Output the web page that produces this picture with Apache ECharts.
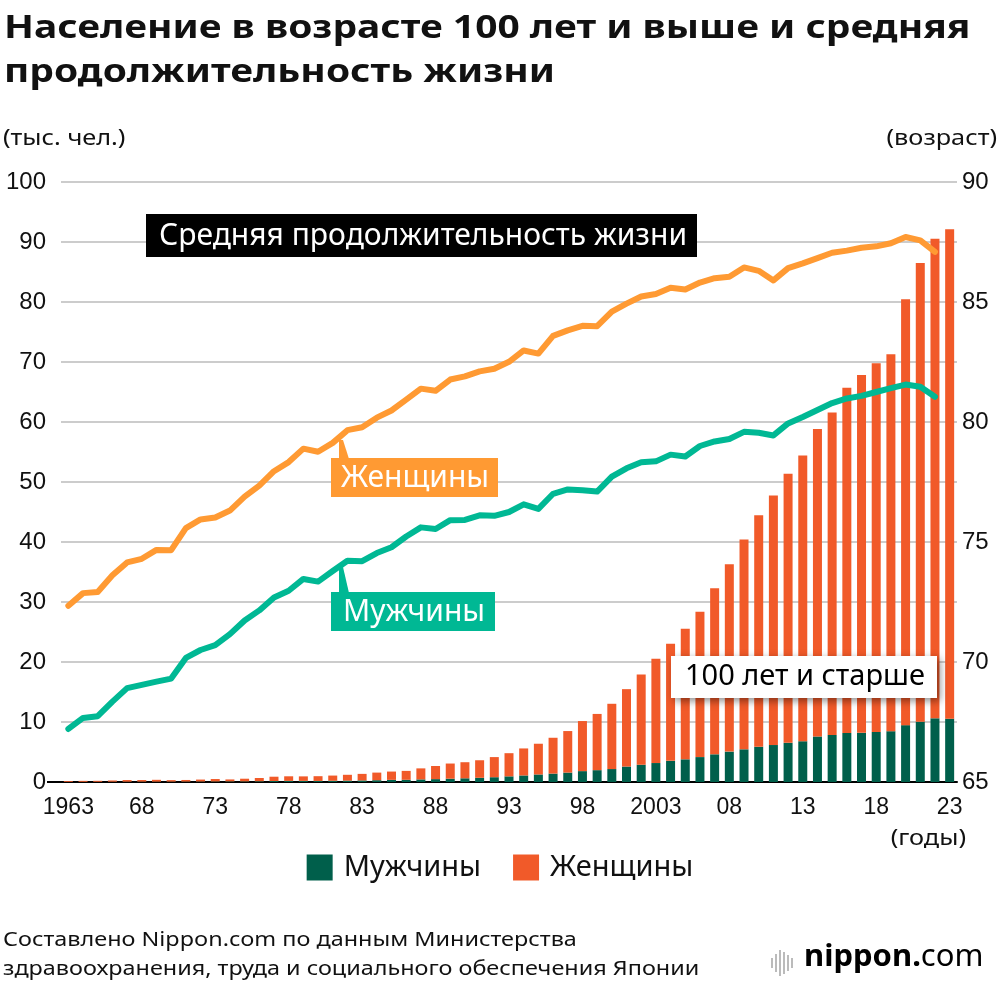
<!DOCTYPE html>
<html><head><meta charset="utf-8">
<script src="https://cdn.jsdelivr.net/npm/echarts@6/dist/echarts.min.js"></script>
<style>html,body{margin:0;padding:0;background:#fff}#c{width:1000px;height:984px}</style>
</head><body><div id="c"></div>
<script>
var years = [];
for (var y = 1963; y <= 2023; y++) years.push(String(y));
// centenarians, thousands
var menCent = [0.020,0.031,0.036,0.048,0.052,0.057,0.058,0.062,0.070,0.078,0.087,0.103,0.102,0.124,0.163,0.185,0.187,0.174,0.206,0.230,0.259,0.301,0.359,0.370,0.434,0.479,0.554,0.617,0.700,0.798,0.941,1.093,1.255,1.400,1.570,1.812,1.973,2.158,2.574,2.875,3.159,3.523,3.779,4.150,4.613,5.063,5.447,5.869,6.162,6.534,6.791,7.586,7.840,8.167,8.197,8.331,8.464,9.475,10.060,10.616,10.550];
var womenCent = [0.133,0.160,0.162,0.204,0.275,0.270,0.307,0.248,0.269,0.327,0.408,0.324,0.446,0.542,0.719,0.765,0.750,0.794,0.866,0.971,1.095,1.266,1.381,1.481,1.837,2.189,2.524,2.681,2.925,3.354,3.861,4.500,5.123,5.973,6.921,8.346,9.373,10.878,12.901,15.059,17.402,19.515,21.775,24.245,27.682,31.213,34.952,38.580,41.594,44.842,47.606,51.234,53.728,57.525,59.627,61.454,62.810,70.975,76.450,79.910,81.589];
// life expectancy, years
var femaleLE = [72.34,72.87,72.92,73.61,74.15,74.30,74.67,74.66,75.58,75.94,76.02,76.31,76.89,77.35,77.95,78.33,78.89,78.76,79.13,79.66,79.78,80.18,80.48,80.93,81.39,81.30,81.77,81.90,82.11,82.22,82.51,82.98,82.85,83.59,83.82,84.01,83.99,84.60,84.93,85.23,85.33,85.59,85.52,85.81,85.99,86.05,86.44,86.30,85.90,86.41,86.61,86.83,87.05,87.14,87.26,87.32,87.45,87.71,87.57,87.09,null];
var maleLE = [67.21,67.67,67.74,68.35,68.91,69.05,69.18,69.31,70.17,70.50,70.70,71.16,71.73,72.15,72.69,72.97,73.46,73.35,73.79,74.22,74.20,74.54,74.78,75.23,75.61,75.54,75.91,75.92,76.11,76.09,76.25,76.57,76.38,77.01,77.19,77.16,77.10,77.72,78.07,78.32,78.36,78.64,78.56,79.00,79.19,79.29,79.59,79.55,79.44,79.94,80.21,80.50,80.79,80.98,81.09,81.25,81.41,81.56,81.47,81.05,null];

var C_MEN = '#005f4b', C_WOMEN = '#f15a29', C_FLINE = '#ff9a33', C_MLINE = '#00b894';
var FONT = '"Noto Sans", sans-serif';
var NUMFONT = '"Liberation Sans", Arial, sans-serif';

var chart = echarts.init(document.getElementById('c'), null, {renderer: 'canvas'});
chart.setOption({
  backgroundColor: '#fff',
  animation: false,
  legend: {
    bottom: 97, left: 'center',
    data: ['Мужчины', 'Женщины'],
    icon: 'rect', itemWidth: 26, itemHeight: 26, itemGap: 32,
    textStyle: {fontFamily: FONT, fontSize: 29, color: '#111', padding: [0, 0, 0, 6]}
  },
  grid: {left: 61, right: 43, top: 182, bottom: 202},
  xAxis: {
    type: 'category', data: years,
    axisLine: {lineStyle: {color: '#000', width: 2}},
    axisTick: {show: false},
    axisLabel: {
      interval: 4, margin: 14, color: '#111', fontFamily: NUMFONT, fontSize: 23,
      formatter: function (v) { return (v === '1963' || v === '2003') ? v : v.slice(2); }
    }
  },
  yAxis: [{
    type: 'value', min: 0, max: 100, interval: 10,
    axisLine: {show: false}, axisTick: {show: false},
    splitLine: {lineStyle: {color: '#cccccc', width: 2}},
    axisLabel: {margin: 15, color: '#111', fontFamily: NUMFONT, fontSize: 24}
  }, {
    type: 'value', min: 65, max: 90, interval: 5,
    axisLine: {show: false}, axisTick: {show: false},
    splitLine: {show: false},
    axisLabel: {margin: 5, color: '#111', fontFamily: NUMFONT, fontSize: 24}
  }],
  series: [
    {name: 'Мужчины', type: 'bar', stack: 'c', data: menCent, barWidth: 9, itemStyle: {color: C_MEN}, z: 2},
    {name: 'Женщины', type: 'bar', stack: 'c', data: womenCent, barWidth: 9, itemStyle: {color: C_WOMEN}, z: 2},
    {name: 'femaleLE', type: 'line', yAxisIndex: 1, data: femaleLE, symbol: 'none', z: 5,
      lineStyle: {color: C_FLINE, width: 6, cap: 'round', join: 'round'}},
    {name: 'maleLE', type: 'line', yAxisIndex: 1, data: maleLE, symbol: 'none', z: 5,
      lineStyle: {color: C_MLINE, width: 6, cap: 'round', join: 'round'}}
  ],
  graphic: [
    {type: 'text', x: 4, y: 7, scaleX: 1.18, style: {text: 'Население в возрасте 100 лет и выше и средняя\nпродолжительность жизни', font: 'bold 33px "Noto Sans"', lineHeight: 44, fill: '#111'}},
    {type: 'line', shape: {x1: 47, y1: 782, x2: 62, y2: 782}, style: {stroke: '#000', lineWidth: 2}, z: 10},
    {type: 'text', x: 3, y: 128, scaleX: 1.15, style: {text: '(тыс. чел.)', font: '22px "Noto Sans"', fill: '#111'}},
    {type: 'text', x: 997, y: 128, scaleX: 1.15, style: {text: '(возраст)', font: '22px "Noto Sans"', fill: '#111', align: 'right'}},
    {type: 'text', x: 966, y: 828, scaleX: 1.15, style: {text: '(годы)', font: '22px "Noto Sans"', fill: '#111', align: 'right'}},
    // annotation boxes
    {type: 'rect', shape: {x: 146, y: 214, width: 551, height: 43}, style: {fill: '#000'}, z: 20},
    {type: 'text', x: 423, y: 236, style: {text: 'Средняя продолжительность жизни', font: '30px "Noto Sans"', fill: '#fff', align: 'center', verticalAlign: 'middle'}, z: 21},
    {type: 'polygon', shape: {points: [[339, 440], [343, 440], [349, 459], [339, 459]]}, style: {fill: C_FLINE}, z: 20},
    {type: 'rect', shape: {x: 331, y: 458, width: 167, height: 39}, style: {fill: C_FLINE}, z: 20},
    {type: 'text', x: 415, y: 478, style: {text: 'Женщины', font: '30px "Noto Sans"', fill: '#fff', align: 'center', verticalAlign: 'middle'}, z: 21},
    {type: 'polygon', shape: {points: [[339, 567], [343, 567], [349, 593], [339, 593]]}, style: {fill: C_MLINE}, z: 20},
    {type: 'rect', shape: {x: 331, y: 592, width: 164, height: 39}, style: {fill: C_MLINE}, z: 20},
    {type: 'text', x: 414, y: 612, style: {text: 'Мужчины', font: '30px "Noto Sans"', fill: '#fff', align: 'center', verticalAlign: 'middle'}, z: 21},
    {type: 'rect', shape: {x: 671, y: 656, width: 266, height: 42}, style: {fill: '#fff', shadowBlur: 8, shadowColor: 'rgba(0,0,0,0.45)', shadowOffsetX: 3, shadowOffsetY: 3}, z: 20},
    {type: 'text', x: 805, y: 677, style: {text: '100 лет и старше', font: '29px "Noto Sans"', fill: '#000', align: 'center', verticalAlign: 'middle'}, z: 21},
    // source
    {type: 'text', x: 3, y: 926, scaleX: 1.17, style: {text: 'Составлено Nippon.com по данным Министерства\nздравоохранения, труда и социального обеспечения Японии', font: '20px "Noto Sans"', lineHeight: 29, fill: '#111'}},
    // logo
    {type: 'group', x: 771, y: 950, children: [
      {type: 'rect', shape: {x: 0, y: 8, width: 2, height: 10}, style: {fill: '#bbb'}},
      {type: 'rect', shape: {x: 4, y: 4, width: 2, height: 18}, style: {fill: '#bbb'}},
      {type: 'rect', shape: {x: 8, y: 0, width: 2, height: 26}, style: {fill: '#bbb'}},
      {type: 'rect', shape: {x: 12, y: 2, width: 2, height: 22}, style: {fill: '#bbb'}},
      {type: 'rect', shape: {x: 16, y: 5, width: 2, height: 16}, style: {fill: '#bbb'}},
      {type: 'rect', shape: {x: 20, y: 8, width: 2, height: 10}, style: {fill: '#bbb'}}
    ]},
    {type: 'text', x: 804, y: 942, style: {
      text: '{a|nippon}{b|.}{c|com}',
      rich: {
        a: {fontFamily: FONT, fontWeight: 'bold', fontSize: 31, color: '#6e6e6e'},
        b: {fontFamily: FONT, fontWeight: 'bold', fontSize: 31, color: '#e8202a'},
        c: {fontFamily: FONT, fontSize: 31, color: '#8a8a8a'}
      }
    }}
  ]
});
</script></body></html>
